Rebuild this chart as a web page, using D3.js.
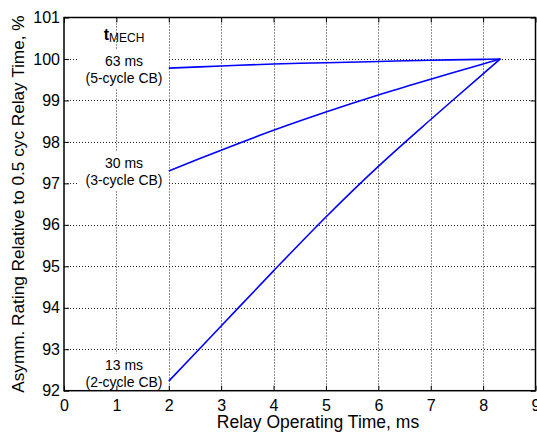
<!DOCTYPE html>
<html>
<head>
<meta charset="utf-8">
<script src="https://cdn.jsdelivr.net/npm/d3@7"></script>
<style>
  body { margin: 0; background: #fff; }
  svg { font-family: "Liberation Sans", Arial, sans-serif; }
</style>
</head>
<body>
<svg id="chart" width="537" height="432"></svg>
<script>
// ── Data ────────────────────────────────────────────────────────────────────
const xTicks = [0, 1, 2, 3, 4, 5, 6, 7, 8, 9];
const yTicks = [92, 93, 94, 95, 96, 97, 98, 99, 100, 101];

const relayX = [2, 3, 4, 5, 6, 7, 8, 8.33];
const cb5Y = [99.78, 99.83, 99.88, 99.91, 99.94, 99.97, 99.99, 100];
const cb3Y = [97.30, 97.80, 98.28, 98.72, 99.13, 99.51, 99.88, 100];
const cb2Y = [92.23, 93.56, 94.89, 96.19, 97.41, 98.54, 99.64, 100];

const labelTop    = ["63 ms", "30 ms", "13 ms"];
const labelBottom = ["(5-cycle CB)", "(3-cycle CB)", "(2-cycle CB)"];
const labelY      = [99.78, 97.32, 92.46];   // data y of each label pair (centre)

// ── Layout ──────────────────────────────────────────────────────────────────
const L = 64, R = 535.5, T = 17.5, B = 390.7;
const svg = d3.select("#chart");
const x = d3.scaleLinear().domain([0, 9]).range([L, R]);
const y = d3.scaleLinear().domain([92, 101]).range([B, T]);
const crisp = v => Math.round(v) + 0.5;

// ── Grid (dotted) ───────────────────────────────────────────────────────────
const grid = svg.append("g");
grid.selectAll(".gx").data(xTicks.slice(1, -1)).join("line").attr("class", "gx")
  .attr("x1", d => crisp(x(d))).attr("x2", d => crisp(x(d)))
  .attr("y1", T).attr("y2", B);
grid.selectAll(".gy").data(yTicks.slice(1, -1)).join("line").attr("class", "gy")
  .attr("y1", d => crisp(y(d))).attr("y2", d => crisp(y(d)))
  .attr("x1", L).attr("x2", R);
grid.selectAll("line")
  .attr("stroke", "#222").attr("stroke-width", 1)
  .attr("stroke-dasharray", "1 2");

// ── Curves ──────────────────────────────────────────────────────────────────
const line = d3.line().x(d => x(d[0])).y(d => y(d[1])).curve(d3.curveCatmullRom.alpha(0.5));
[cb5Y, cb3Y, cb2Y].forEach(ys => {
  svg.append("path")
    .datum(relayX.map((v, i) => [v, ys[i]]))
    .attr("d", line)
    .attr("fill", "none")
    .attr("stroke", "#0000ff")
    .attr("stroke-width", 1.6)
    .attr("stroke-linejoin", "round");
});

// ── Text labels with white background ──────────────────────────────────────
const lblX = 124;
labelTop.forEach((t, i) => {
  const cy = y(labelY[i]);
  svg.append("rect")
    .attr("x", x(0.27)).attr("y", cy - 18)
    .attr("width", x(2) - x(0.27) - 1).attr("height", 38)
    .attr("fill", "#fff");
  svg.append("text").attr("x", lblX).attr("y", cy - 2)
    .attr("text-anchor", "middle").attr("font-size", 14).text(t);
  svg.append("text").attr("x", lblX).attr("y", cy + 15)
    .attr("text-anchor", "middle").attr("font-size", 14).text(labelBottom[i]);
});
const tm = svg.append("text").attr("x", lblX).attr("y", 40)
  .attr("text-anchor", "middle").attr("font-size", 16);
tm.append("tspan").attr("font-weight", "bold").text("t");
tm.append("tspan").attr("font-size", 12).attr("dy", 2).text("MECH");

// ── Axes box & ticks ────────────────────────────────────────────────────────
svg.append("rect").attr("x", L).attr("y", T).attr("width", R - L).attr("height", B - T)
  .attr("fill", "none").attr("stroke", "#000").attr("stroke-width", 1.5);

const tk = 5;
svg.append("g").attr("transform", `translate(0,${B})`)
  .call(d3.axisBottom(x).tickValues(xTicks).tickSizeInner(-tk).tickSizeOuter(0).tickPadding(9))
  .call(g => g.select(".domain").remove());
svg.append("g").attr("transform", `translate(0,${T})`)
  .call(d3.axisTop(x).tickValues(xTicks).tickSizeInner(-tk).tickSizeOuter(0).tickFormat(""))
  .call(g => g.select(".domain").remove());
svg.append("g").attr("transform", `translate(${L},0)`)
  .call(d3.axisLeft(y).tickValues(yTicks).tickSizeInner(-tk).tickSizeOuter(0).tickPadding(4))
  .call(g => g.select(".domain").remove());
svg.append("g").attr("transform", `translate(${R},0)`)
  .call(d3.axisRight(y).tickValues(yTicks).tickSizeInner(-tk).tickSizeOuter(0).tickFormat(""))
  .call(g => g.select(".domain").remove());

svg.selectAll(".tick line").attr("stroke", "#000");
svg.selectAll(".tick text")
  .attr("font-family", "'Liberation Sans', Arial, sans-serif")
  .attr("font-size", 16).attr("fill", "#000");

// ── Axis titles ─────────────────────────────────────────────────────────────
svg.append("text").attr("x", 318).attr("y", 428)
  .attr("text-anchor", "middle").attr("font-size", 17.5).text("Relay Operating Time, ms");
svg.append("text")
  .attr("transform", `translate(24,${(T + B) / 2}) rotate(-90)`)
  .attr("text-anchor", "middle").attr("font-size", 17.2)
  .text("Asymm. Rating Relative to 0.5 cyc Relay Time, %");
</script>
</body>
</html>
